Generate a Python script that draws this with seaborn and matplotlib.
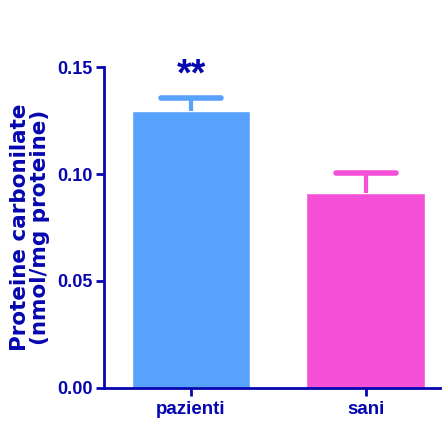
import numpy as np
import pandas as pd
import seaborn as sns
import matplotlib
import matplotlib.pyplot as plt

matplotlib.use('Agg')

# values
groups = ["pazienti", "sani"]
means = [0.1294, 0.0911]
sem = [0.0062, 0.0094]
bar_colors = ["#58A2FD", "#F550D8"]
axis_color = "#0606B0"

df = pd.DataFrame({"group": groups, "mean": means})

sns.set_style("white")
plt.rcParams['font.family'] = ['Liberation Sans', 'DejaVu Sans']

fig = plt.figure(figsize=(4.43, 4.30), dpi=100)
ax = fig.add_axes([0.235, 0.098, 0.758, 0.746])

sns.barplot(data=df, x="group", y="mean", hue="group", palette=bar_colors,
            width=0.68, legend=False, ax=ax, saturation=1)

# only the upper half of the error bars (stem + cap)
xs = np.arange(len(groups))
tops = np.array(means) + np.array(sem)
ax.vlines(xs, means, tops, colors=bar_colors, linewidth=3, zorder=1)
ax.hlines(tops, xs - 0.172, xs + 0.172, colors=bar_colors, linewidth=4,
          capstyle='round', zorder=1)

ax.text(0, 0.1462, "**", ha='center', va='center', fontsize=27,
        fontweight='bold', color=axis_color)

ax.set_ylim(0, 0.15)
ax.set_xlim(-0.497, 1.423)
ax.set_yticks([0, 0.05, 0.10, 0.15])
ax.set_yticklabels(["0.00", "0.05", "0.10", "0.15"])
ax.set_xlabel("")
ax.set_ylabel("Proteine carbonilate\n(nmol/mg proteine)", fontsize=15.5,
              fontweight='bold', color=axis_color, linespacing=1.05,
              family=['DejaVu Sans'])
ax.yaxis.set_label_coords(-0.16, 0.5)

sns.despine(ax=ax)
for side in ["left", "bottom"]:
    ax.spines[side].set_color(axis_color)
    ax.spines[side].set_linewidth(2)
ax.tick_params(axis='both', colors=axis_color, width=2, length=6, direction='out',
               labelsize=13.5, left=True, bottom=True)
ax.tick_params(axis='y', labelsize=13, pad=2)
for lab in ax.get_xticklabels() + ax.get_yticklabels():
    lab.set_fontweight('bold')
    lab.set_color(axis_color)

fig.savefig("out.png", dpi=100)
